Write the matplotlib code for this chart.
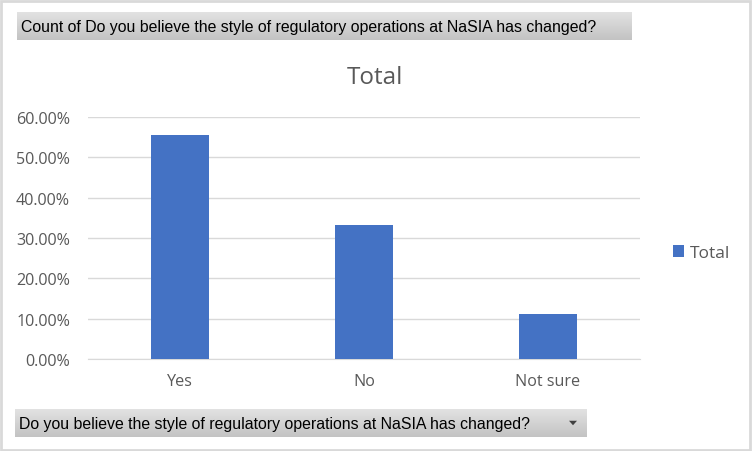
import numpy as np
import matplotlib
matplotlib.use("Agg")
import matplotlib.pyplot as plt
from matplotlib.ticker import PercentFormatter
from matplotlib.patches import Rectangle, Polygon

categories = ["Yes", "No", "Not sure"]
values = [0.5556, 0.3333, 0.1111]
series_name = "Total"
top_label = "Count of Do you believe the style of regulatory operations at NaSIA has changed?"
field_label = "Do you believe the style of regulatory operations at NaSIA has changed?"

plt.rcParams['font.family'] = ['Open Sans', 'DejaVu Sans']

W, H = 752, 452
fig = plt.figure(figsize=(W / 100, H / 100), dpi=100)
fig.patch.set_facecolor('white')

# outer border
fig.add_artist(Rectangle((1 / W, 1 / H), 1 - 3 / W, 1 - 3 / H, transform=fig.transFigure,
                         fill=False, edgecolor='#d9d9d9', linewidth=2))


def button(x0, y0, x1, y1, text, arrow=False):
    # pixel coords from top-left
    bax = fig.add_axes([x0 / W, 1 - y1 / H, (x1 - x0) / W, (y1 - y0) / H])
    grad = np.linspace(0, 1, 50).reshape(-1, 1)
    cmap = matplotlib.colors.LinearSegmentedColormap.from_list('g', ['#e2e2e2', '#c3c3c3'])
    bax.imshow(grad, aspect='auto', cmap=cmap, extent=[0, 1, 0, 1], origin='upper')
    bax.set_xlim(0, 1)
    bax.set_ylim(0, 1)
    bax.axis('off')
    bax.text(4 / (x1 - x0), 0.48, text, fontsize=11.4, color='black', va='center', ha='left',
             family=['Liberation Sans', 'DejaVu Sans'])
    if arrow:
        cx = 1 - 14 / (x1 - x0)
        w = 4 / (x1 - x0)
        bax.add_patch(Polygon([[cx - w, 0.58], [cx + w, 0.58], [cx, 0.42]], closed=True,
                              facecolor='#404040', edgecolor='none'))


button(17, 13, 632, 41, top_label)
button(15, 410, 587, 438, field_label, arrow=True)

ax = fig.add_axes([88 / W, 1 - 360 / H, (640 - 88) / W, (360 - 118) / H])
x = np.arange(len(categories))
ax.bar(x, values, width=0.315, color='#4472C4', label=series_name, zorder=3)
ax.set_xlim(-0.5, len(categories) - 0.5)
ax.set_ylim(0, 0.6)
ax.set_yticks(np.arange(0, 0.61, 0.1))
ax.yaxis.set_major_formatter(PercentFormatter(1.0, decimals=2))
ax.set_xticks(x)
ax.set_xticklabels(categories)
ax.grid(axis='y', color='#d9d9d9', linewidth=1, zorder=0)
for s in ['top', 'right', 'left']:
    ax.spines[s].set_visible(False)
ax.spines['bottom'].set_color('#d9d9d9')
ax.tick_params(axis='both', length=0, colors='#595959', labelsize=11.6)
ax.tick_params(axis='y', pad=13)
ax.tick_params(axis='x', pad=10)

fig.text(375 / W, 1 - 78 / H, "Total", fontsize=17.5, color='#595959', ha='center', va='center')

leg = fig.legend(loc='center left', bbox_to_anchor=(657 / W, 1 - 254 / H), frameon=False,
                 fontsize=12.5, handlelength=0.65, handleheight=0.65, handletextpad=0.35,
                 labelcolor='#595959')

fig.savefig("out.png", dpi=100)
